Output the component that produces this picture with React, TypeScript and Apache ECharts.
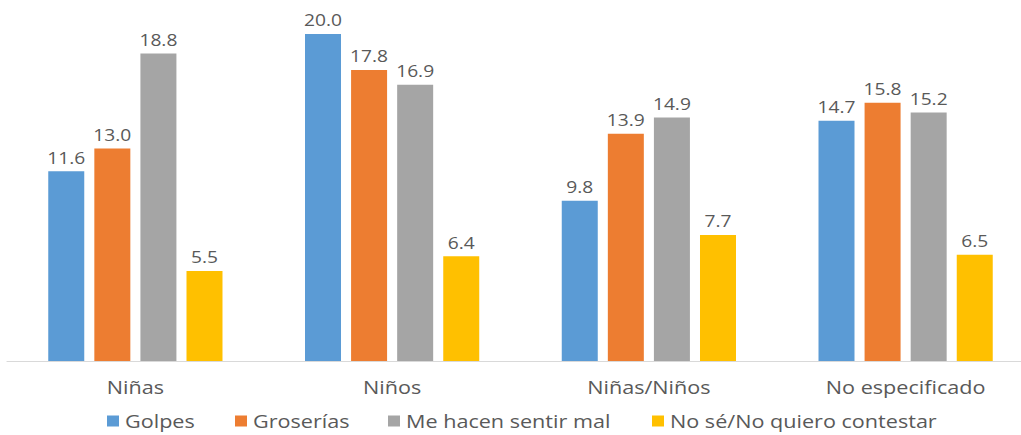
import React, { useEffect, useRef } from "react";
import * as echarts from "echarts";

const categories = ["Niñas", "Niños", "Niñas/Niños", "No especificado"];
const golpes = [11.6, 20.0, 9.8, 14.7];
const groserias = [13.0, 17.8, 13.9, 15.8];
const meHacenSentirMal = [18.8, 16.9, 14.9, 15.2];
const noSe = [5.5, 6.4, 7.7, 6.5];
const seriesNames = ["Golpes", "Groserías", "Me hacen sentir mal", "No sé/No quiero contestar"];
const seriesData = [golpes, groserias, meHacenSentirMal, noSe];
const colors = ["#5b9bd5", "#ed7d31", "#a5a5a5", "#ffc000"];

// the reference is horizontally stretched; draw at 1/SX width and stretch
const SX = 1.2;
const legendLefts = [107, 235, 388, 652].map((v) => v / SX);

const FONT = "'Open Sans', sans-serif";
const TEXT = "#595959";

export default function App() {
  const ref = useRef<HTMLDivElement>(null);
  useEffect(() => {
    if (!ref.current) return;
    const chart = echarts.init(ref.current, null, { renderer: "svg" });
    chart.setOption({
      animation: false,
      textStyle: { fontFamily: FONT },
      grid: { left: 7 / SX, width: 1027 / SX, top: 34, bottom: 74, containLabel: false },
      legend: seriesNames.map((n, i) => ({
        data: [n],
        left: legendLefts[i],
        top: 410,
        itemWidth: 10,
        itemHeight: 11,
        itemGap: 6,
        padding: 0,
        icon: "rect",
        textStyle: { color: TEXT, fontSize: 18, fontFamily: FONT, lineHeight: 22 },
      })),
      xAxis: {
        type: "category",
        data: categories,
        axisLine: { show: true, lineStyle: { color: "#d9d9d9", width: 1 } },
        axisTick: { show: false },
        axisLabel: { color: TEXT, fontSize: 18, margin: 17, fontFamily: FONT },
      },
      yAxis: {
        type: "value",
        min: 0,
        max: 20,
        show: false,
        splitLine: { show: false },
      },
      series: seriesNames.map((n, i) => ({
        name: n,
        type: "bar",
        data: seriesData[i],
        barWidth: 36 / SX,
        barGap: "28%",
        itemStyle: { color: colors[i] },
        label: {
          show: true,
          position: "top",
          distance: 6,
          color: TEXT,
          fontSize: 16,
          fontFamily: FONT,
          formatter: (p: any) => Number(p.value).toFixed(1),
        },
      })),
    });
    return () => chart.dispose();
  }, []);
  return (
    <div
      style={{
        position: "fixed",
        left: 0,
        top: 0,
        width: 1021,
        height: 435,
        overflow: "hidden",
        background: "#fff",
      }}
    >
      <div
        ref={ref}
        style={{
          width: 1060 / SX,
          height: 435,
          transform: `scaleX(${SX})`,
          transformOrigin: "0 0",
        }}
      />
    </div>
  );
}
